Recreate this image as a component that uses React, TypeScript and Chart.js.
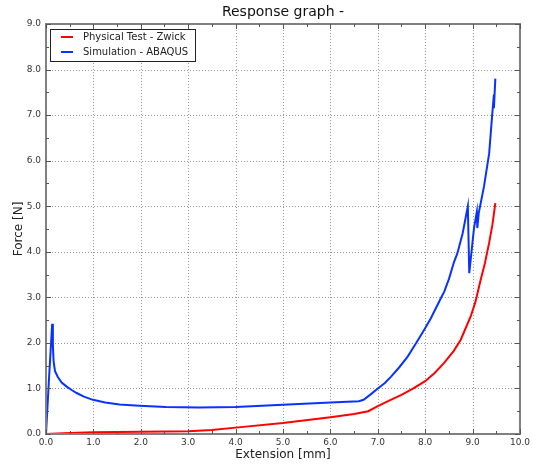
import React, { useEffect, useRef } from "react";
import { Chart, registerables } from "chart.js";

Chart.register(...registerables);

const titleText = "Response graph -";
const xTitle = "Extension [mm]";
const yTitle = "Force [N]";
const seriesNames = ["Physical Test - Zwick", "Simulation - ABAQUS"];
const seriesColors = ["#ff0000", "#0a32ff"];

const redX = [0, 0.5, 1.0, 2.0, 3.0, 3.5, 4.0, 5.0, 6.0, 6.5, 6.8, 7.0, 7.25, 7.5, 7.75, 8.0, 8.2, 8.4, 8.6, 8.75, 8.96, 9.06, 9.17, 9.26, 9.35, 9.42, 9.48];
const redY = [0, 0.02, 0.04, 0.05, 0.06, 0.09, 0.14, 0.24, 0.37, 0.44, 0.5, 0.61, 0.74, 0.86, 1.0, 1.16, 1.34, 1.56, 1.82, 2.07, 2.58, 2.9, 3.38, 3.75, 4.2, 4.6, 5.07];

const blueX = [0, 0.06, 0.13, 0.145, 0.16, 0.19, 0.25, 0.33, 0.436, 0.55, 0.646, 0.8, 0.99, 1.25, 1.55, 1.97, 2.53, 3.23, 4.0, 5.0, 6.0, 6.6, 6.7, 6.85, 7.0, 7.15, 7.28, 7.45, 7.63, 7.8, 7.98, 8.12, 8.33, 8.4, 8.5, 8.61, 8.68, 8.79, 8.9, 8.93, 9.03, 9.09, 9.1, 9.13, 9.24, 9.35, 9.41, 9.45, 9.45, 9.48];
const blueY = [0, 1.15, 2.42, 1.95, 1.6, 1.38, 1.25, 1.13, 1.04, 0.96, 0.9, 0.82, 0.75, 0.69, 0.65, 0.62, 0.59, 0.58, 0.59, 0.64, 0.69, 0.72, 0.75, 0.87, 1.0, 1.12, 1.26, 1.46, 1.7, 1.98, 2.29, 2.54, 2.98, 3.12, 3.4, 3.78, 3.97, 4.4, 5.0, 3.53, 4.52, 4.88, 4.52, 4.85, 5.43, 6.16, 6.96, 7.45, 7.15, 7.8];

const xMin = 0, xMax = 10, yMin = 0, yMax = 9;
const FONT = "'DejaVu Sans', sans-serif";

const decor = {
  id: "decor",
  beforeDatasetsDraw(chart: any) {
    const { ctx, chartArea: a, scales } = chart;
    const xs = scales.x, ys = scales.y;
    ctx.save();
    ctx.strokeStyle = "#9a9a9a";
    ctx.lineWidth = 1;
    ctx.setLineDash([1, 2]);
    for (let v = xMin + 1; v < xMax; v += 1) {
      const px = Math.round(xs.getPixelForValue(v)) + 0.5;
      ctx.beginPath(); ctx.moveTo(px, a.top); ctx.lineTo(px, a.bottom); ctx.stroke();
    }
    for (let v = yMin + 1; v < yMax; v += 1) {
      const py = Math.round(ys.getPixelForValue(v)) + 0.5;
      ctx.beginPath(); ctx.moveTo(a.left, py); ctx.lineTo(a.right, py); ctx.stroke();
    }
    ctx.restore();
  },
  afterDraw(chart: any) {
    const { ctx, chartArea: a, scales } = chart;
    const xs = scales.x, ys = scales.y;
    ctx.save();
    // frame
    ctx.strokeStyle = "#808080";
    ctx.lineWidth = 2;
    ctx.strokeRect(a.left, a.top, a.right - a.left, a.bottom - a.top);
    // inward ticks
    ctx.strokeStyle = "#555";
    ctx.lineWidth = 1;
    for (let v = xMin; v <= xMax + 1e-9; v += 0.5) {
      const px = Math.round(xs.getPixelForValue(v)) + 0.5;
      const len = Math.abs(v - Math.round(v)) < 1e-9 ? 5 : 3;
      ctx.beginPath();
      ctx.moveTo(px, a.bottom); ctx.lineTo(px, a.bottom - len);
      ctx.moveTo(px, a.top); ctx.lineTo(px, a.top + len);
      ctx.stroke();
    }
    for (let v = yMin; v <= yMax + 1e-9; v += 0.5) {
      const py = Math.round(ys.getPixelForValue(v)) + 0.5;
      const len = Math.abs(v - Math.round(v)) < 1e-9 ? 5 : 3;
      ctx.beginPath();
      ctx.moveTo(a.left, py); ctx.lineTo(a.left + len, py);
      ctx.moveTo(a.right, py); ctx.lineTo(a.right - len, py);
      ctx.stroke();
    }
    // title
    ctx.fillStyle = "#111";
    ctx.textAlign = "center";
    ctx.textBaseline = "middle";
    ctx.font = `14px ${FONT}`;
    ctx.fillText(titleText, (a.left + a.right) / 2, 12);
    ctx.font = `12px ${FONT}`;
    ctx.fillStyle = "#222";
    ctx.fillText(xTitle, (a.left + a.right) / 2, 455);
    ctx.save();
    ctx.translate(19, (a.top + a.bottom) / 2);
    ctx.rotate(-Math.PI / 2);
    ctx.fillText(yTitle, 0, 0);
    ctx.restore();
    // legend
    const lx = 50, ly = 29, lw = 145, lh = 32;
    ctx.fillStyle = "#fff";
    ctx.fillRect(lx, ly, lw, lh);
    ctx.strokeStyle = "#222";
    ctx.lineWidth = 1;
    ctx.strokeRect(lx + 0.5, ly + 0.5, lw, lh);
    ctx.font = `10px ${FONT}`;
    ctx.textAlign = "left";
    seriesNames.forEach((n, i) => {
      const y = 37 + i * 15;
      ctx.strokeStyle = seriesColors[i];
      ctx.lineWidth = 2;
      ctx.beginPath();
      ctx.moveTo(61, y); ctx.lineTo(73, y);
      ctx.stroke();
      ctx.fillStyle = "#222";
      ctx.fillText(n, 83, y);
    });
    ctx.restore();
  },
};

export default function App() {
  const ref = useRef<HTMLCanvasElement>(null);
  useEffect(() => {
    document.body.style.margin = "0";
    const makeData = (xs: number[], ys: number[]) => xs.map((x, i) => ({ x, y: ys[i] }));
    const chart = new Chart(ref.current!, {
      type: "line",
      data: {
        datasets: [
          { label: seriesNames[0], data: makeData(redX, redY), borderColor: seriesColors[0], borderWidth: 2, pointRadius: 0, tension: 0, fill: false },
          { label: seriesNames[1], data: makeData(blueX, blueY), borderColor: seriesColors[1], borderWidth: 2, pointRadius: 0, tension: 0, fill: false },
        ],
      },
      options: {
        responsive: false,
        animation: false,
        layout: { padding: { top: 24, right: 11, left: 0, bottom: 0 } },
        plugins: { legend: { display: false }, title: { display: false }, tooltip: { enabled: false } },
        scales: {
          x: {
            type: "linear", min: xMin, max: xMax,
            afterFit: (s: any) => { s.height = 34; },
            ticks: { stepSize: 1, padding: 3, color: "#333", font: { family: FONT, size: 9 }, callback: (v: any) => Number(v).toFixed(1), maxRotation: 0, autoSkip: false },
            grid: { display: false, drawTicks: false },
            border: { display: false },
          },
          y: {
            type: "linear", min: yMin, max: yMax,
            afterFit: (s: any) => { s.width = 46; },
            ticks: { stepSize: 1, padding: 5, color: "#333", font: { family: FONT, size: 9 }, callback: (v: any) => Number(v).toFixed(1) },
            grid: { display: false, drawTicks: false },
            border: { display: false },
          },
        },
      },
      plugins: [decor],
    });
    return () => chart.destroy();
  }, []);
  return (
    <div style={{ position: "absolute", left: 0, top: 0, width: 533, height: 468, background: "#fff" }}>
      <canvas ref={ref} width={533} height={468} />
    </div>
  );
}
